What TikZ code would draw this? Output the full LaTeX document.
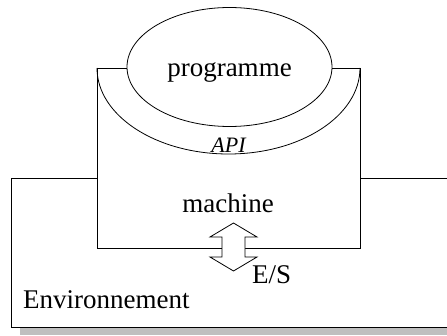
\documentclass[tikz,border=0pt]{standalone}
\usepackage{fontspec}
\setmainfont{Liberation Serif}
\usetikzlibrary{shapes.geometric}
\tikzset{
  outline/.style={draw=black, line width=0.8pt},
  lbl/.style={inner sep=0pt, anchor=base, font=\fontsize{27}{32}\selectfont},
  apilbl/.style={inner sep=0pt, anchor=base, font=\fontsize{22}{26}\selectfont\itshape},
}
\begin{document}
\begin{tikzpicture}[x=1pt,y=1pt]
\useasboundingbox (0,0) rectangle (447,335);
\clip (0,0) rectangle (447,335);
% shadow of the environment box
\fill[black!25] (20,0) rectangle (470,10);
% environment
\draw[outline, fill=white] (11,8) rectangle (470,157);
% machine
\draw[outline, fill=white] (97,87) rectangle (360,267);
% API band
\draw[outline] (97,267) arc[start angle=180, end angle=360, x radius=131.5, y radius=86];
% programme ellipse
\node[outline, fill=white, ellipse, minimum width=205, minimum height=119, inner sep=0pt] (prog) at (229.5,268) {};
\node[lbl] (progt) at (229.5,258) {programme};
\node[apilbl] (api) at (228.5,182) {API};
\node[lbl] (mach) at (228,122) {machine};
% double arrow E/S
\coordinate (es) at (233.5,88);
\draw[outline, fill=white] (233.5,112) -- (257,98) -- (245,98) -- (245,78) -- (257,78)
  -- (233.5,64) -- (210,78) -- (222,78) -- (222,98) -- (210,98) -- cycle;
\node[lbl, anchor=base west] (est) at (252,52) {E/S};
\node[lbl, anchor=base west] (env) at (23,27) {Environnement};
\end{tikzpicture}
\end{document}
